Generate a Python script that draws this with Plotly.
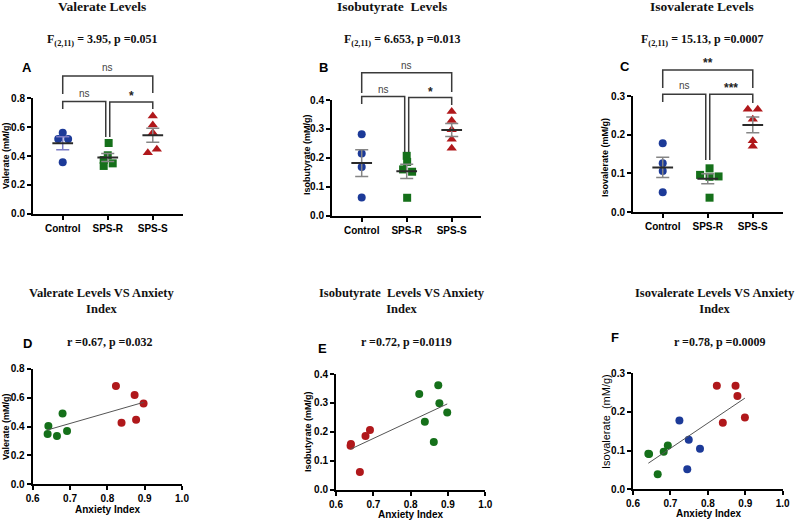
import numpy as np
import plotly.graph_objects as go

W, H = 798, 520

# ---------------- data ----------------
groups = ["Control", "SPS-R", "SPS-S"]

valerate_control = [0.562, 0.518, 0.518, 0.356]
valerate_spsr = [0.490, 0.405, 0.372, 0.349, 0.331]
valerate_spss = [0.677, 0.615, 0.562, 0.446, 0.423]

isobutyrate_control = [0.282, 0.215, 0.168, 0.063]
isobutyrate_spsr = [0.207, 0.186, 0.160, 0.152, 0.062]
isobutyrate_spss = [0.360, 0.329, 0.297, 0.264, 0.233]

isovalerate_control = [0.178, 0.126, 0.106, 0.051]
isovalerate_spsr = [0.113, 0.096, 0.092, 0.091, 0.037]
isovalerate_spss = [0.266, 0.266, 0.240, 0.184, 0.170]

# horizontal scatter offsets of the dots (category units)
jit_val = [[0, -0.10, 0.12, 0], [0.02, 0, -0.09, 0.11, -0.09], [0, 0, 0, 0.09, -0.11]]
jit_ibu = [[0, 0, 0, 0], [0, 0.01, -0.08, 0.12, 0.01], [0, 0, 0, 0, 0]]
jit_iva = [[0, 0, 0, 0], [0.04, -0.17, 0.24, 0.04, 0.04], [-0.11, 0.11, 0, 0, 0]]

# correlation panels
d_green_x = [0.642, 0.640, 0.665, 0.680, 0.692]
d_green_y = [0.403, 0.348, 0.334, 0.490, 0.369]
d_red_x = [0.823, 0.838, 0.873, 0.877, 0.897]
d_red_y = [0.680, 0.426, 0.618, 0.447, 0.560]

e_red_x = [0.640, 0.639, 0.664, 0.679, 0.691]
e_red_y = [0.158, 0.152, 0.061, 0.186, 0.206]
e_green_x = [0.823, 0.838, 0.862, 0.874, 0.877, 0.898]
e_green_y = [0.331, 0.235, 0.165, 0.361, 0.299, 0.267]

f_green_x = [0.643, 0.641, 0.666, 0.682, 0.693]
f_green_y = [0.091, 0.092, 0.039, 0.097, 0.113]
f_blue_x = [0.724, 0.749, 0.745, 0.779]
f_blue_y = [0.178, 0.128, 0.052, 0.105]
f_red_x = [0.824, 0.840, 0.874, 0.879, 0.899]
f_red_y = [0.268, 0.172, 0.268, 0.241, 0.186]

bar_titles = ["Valerate Levels", "Isobutyrate  Levels", "Isovalerate Levels"]
bar_stats = ["F<sub>(2,11)</sub> = 3.95, p =0.051",
             "F<sub>(2,11)</sub> = 6.653, p =0.013",
             "F<sub>(2,11)</sub> = 15.13, p =0.0007"]
bar_ytitles = ["Valerate (mM/g)", "Isobutyrate (mM/g)", "Isovalerate (mM/g)"]
corr_titles = ["Valerate Levels VS Anxiety<br>Index",
               "Isobutyrate  Levels VS Anxiety<br>Index",
               "Isovalerate Levels VS Anxiety<br>Index"]
corr_stats = ["r =0.67, p =0.032", "r =0.72, p =0.0119", "r =0.78, p =0.0009"]
corr_ytitles = ["Valerate (mM/g)", "Isobutyrate (mM/g)", "Isovalerate  (mM/g)"]
xtitle_corr = "Anxiety Index"
letters = ["A", "B", "C", "D", "E", "F"]

# ---------------- style ----------------
BLUE, GREEN, RED = "#1c3a98", "#15701a", "#b0181b"
SANS = "Liberation Sans, Arial, sans-serif"
SERIF = "Liberation Serif, Times New Roman, serif"
XR = [-0.66, 2.66]


def pxx(v):
    return v / W


def pxy(v):
    return 1 - v / H


fig = go.Figure()
layout = {}
annotations = []
shapes = []

# panel geometry in pixels: x0, x1, ytop, ybot, ymax, dtick
bar_geo = [
    (33, 182.5, 98.3, 213.7, 0.8, 0.2),
    (332, 481.4, 100.0, 215.7, 0.4, 0.1),
    (633, 782.5, 96.0, 212.0, 0.3, 0.1),
]
corr_geo = [
    (32.7, 182.0, 368.7, 484.3, 0.8, 0.2),
    (336, 485.3, 374.0, 489.7, 0.4, 0.1),
    (633, 782.7, 373.3, 489.3, 0.3, 0.1),
]

bar_data = [
    ([valerate_control, valerate_spsr, valerate_spss], jit_val),
    ([isobutyrate_control, isobutyrate_spsr, isobutyrate_spss], jit_ibu),
    ([isovalerate_control, isovalerate_spsr, isovalerate_spss], jit_iva),
]
symbols = ["circle", "square", "triangle-up"]
gcolors = [BLUE, GREEN, RED]


def axis_common():
    return dict(showline=True, linecolor="black", linewidth=2, ticks="outside",
                ticklen=4, tickwidth=1.5, tickcolor="black", showgrid=False,
                zeroline=False, fixedrange=True, automargin=False,
                tickfont=dict(family=SANS, size=10, color="black", weight="bold"))


for i, (geo, (vals, jit)) in enumerate(zip(bar_geo, bar_data)):
    n = i + 1
    xa = "x" if n == 1 else f"x{n}"
    ya = "y" if n == 1 else f"y{n}"
    x0, x1, yt, yb, ymax, dt = geo
    layout["xaxis" if n == 1 else f"xaxis{n}"] = dict(
        domain=[pxx(x0), pxx(x1)], range=XR, anchor=ya, tickvals=[0, 1, 2],
        ticktext=groups, **axis_common())
    layout["yaxis" if n == 1 else f"yaxis{n}"] = dict(
        domain=[pxy(yb), pxy(yt)], range=[0, ymax], anchor=xa, dtick=dt,
        tick0=0, tickformat=".1f", **axis_common())
    for g in range(3):
        v = np.array(vals[g])
        fig.add_trace(go.Scatter(
            x=[g + j for j in jit[g]], y=v, mode="markers", xaxis=xa, yaxis=ya,
            marker=dict(symbol=symbols[g], color=gcolors[g], size=8 if g < 2 else 9,
                        line=dict(width=0)),
            cliponaxis=False, showlegend=False, hoverinfo="skip"))
    for g in range(3):
        v = np.array(vals[g])
        m = v.mean()
        s = v.std(ddof=1) / np.sqrt(len(v))
        semc = "#7b7bc4" if (i == 0 and g == 0) else "#858585"
        fig.add_trace(go.Scatter(
            x=[g - 0.145, g + 0.145, None, g, g, None, g - 0.145, g + 0.145],
            y=[m + s, m + s, None, m + s, m - s, None, m - s, m - s],
            mode="lines", line=dict(color=semc, width=1.5), xaxis=xa, yaxis=ya,
            showlegend=False, hoverinfo="skip", cliponaxis=False))
        fig.add_trace(go.Scatter(
            x=[g - 0.23, g + 0.23], y=[m, m], mode="lines",
            line=dict(color="#2a2a2a", width=2), xaxis=xa, yaxis=ya,
            showlegend=False, hoverinfo="skip", cliponaxis=False))


def cat_px(geo, c):
    x0, x1 = geo[0], geo[1]
    return x0 + (c - XR[0]) / (XR[1] - XR[0]) * (x1 - x0)


# brackets: (c_left, dx_left, c_right, dx_right, h, leg_left_bottom, leg_right_bottom, label, label_y)
brackets = [
    [(0, 0, 2, 0, 76, 94, 93, "ns", 68), (0, 0, 1, -2, 101.5, 109, 137, "ns", 93),
     (1, 2, 2, 0, 102, 137, 109, "*", 96)],
    [(0, 0, 2, 0, 72.7, 93, 92, "ns", 65), (0, 0, 1, -2, 96.5, 104, 152, "ns", 89),
     (1, 2, 2, 0, 97.5, 152, 105, "*", 92)],
    [(0, 0, 2, 0, 70, 88, 88, "**", 63), (0, 0, 1, -2, 94.3, 102, 160, "ns", 86),
     (1, 2, 2, 0, 94.3, 160, 103, "***", 88)],
]
for geo, blist in zip(bar_geo, brackets):
    for (cl, dxl, cr, dxr, h, lb, rb, lab, ly) in blist:
        xl = cat_px(geo, cl) + dxl
        xr = cat_px(geo, cr) + dxr
        path = (f"M {pxx(xl)},{pxy(lb)} L {pxx(xl)},{pxy(h)} "
                f"L {pxx(xr)},{pxy(h)} L {pxx(xr)},{pxy(rb)}")
        shapes.append(dict(type="path", path=path, xref="paper", yref="paper",
                           line=dict(color="#3a3a3a", width=1.5)))
        if lab == "ns":
            font = dict(family=SANS, size=10, color="#444")
        else:
            font = dict(family=SANS, size=12, color="#222", weight="bold")
        annotations.append(dict(x=pxx((xl + xr) / 2), y=pxy(ly), text=lab,
                                xref="paper", yref="paper", showarrow=False,
                                font=font, xanchor="center", yanchor="middle"))

# correlation panels
corr_sets = [
    [(d_green_x, d_green_y, GREEN), (d_red_x, d_red_y, RED)],
    [(e_red_x, e_red_y, RED), (e_green_x, e_green_y, GREEN)],
    [(f_green_x, f_green_y, GREEN), (f_blue_x, f_blue_y, BLUE), (f_red_x, f_red_y, RED)],
]
for i, (geo, sets) in enumerate(zip(corr_geo, corr_sets)):
    n = i + 4
    xa, ya = f"x{n}", f"y{n}"
    x0, x1, yt, yb, ymax, dt = geo
    layout[f"xaxis{n}"] = dict(domain=[pxx(x0), pxx(x1)], range=[0.6, 1.0],
                               anchor=ya, dtick=0.1, tick0=0.6, tickformat=".1f",
                               **axis_common())
    layout[f"yaxis{n}"] = dict(domain=[pxy(yb), pxy(yt)], range=[0, ymax],
                               anchor=xa, dtick=dt, tick0=0, tickformat=".1f",
                               **axis_common())
    allx, ally = [], []
    for xs, ys, col in sets:
        allx += xs
        ally += ys
        fig.add_trace(go.Scatter(x=xs, y=ys, mode="markers", xaxis=xa, yaxis=ya,
                                 marker=dict(color=col, size=8), cliponaxis=False,
                                 showlegend=False, hoverinfo="skip"))
    k, b = np.polyfit(allx, ally, 1)
    lx = np.array([min(allx), max(allx)])
    fig.add_trace(go.Scatter(x=lx, y=k * lx + b, mode="lines", xaxis=xa, yaxis=ya,
                             line=dict(color="#555", width=1), showlegend=False,
                             hoverinfo="skip"))


# text annotations (pixel positions)
def ann(x, y, text, font, angle=0):
    annotations.append(dict(x=pxx(x), y=pxy(y), text=text, xref="paper", yref="paper",
                            showarrow=False, font=font, textangle=angle,
                            xanchor="center", yanchor="middle"))


bar_title_font = dict(family=SERIF, size=13.5, color="#111", weight="bold")
title_font = dict(family=SERIF, size=12.5, color="#111", weight="bold")
stat_font = dict(family=SERIF, size=12, color="#111", weight="bold")
for (tx, sx), t, s in zip([(102, 102), (392, 402), (702, 702)], bar_titles, bar_stats):
    ann(tx, 7, t, bar_title_font)
    ann(sx, 40, s, stat_font)
for (tx, sx), t, s in zip([(102, 109), (402, 406), (715, 719)], corr_titles, corr_stats):
    ann(tx, 301, t, title_font)
    ann(sx, 342, s, stat_font)

letter_font = dict(family=SANS, size=13, color="black", weight="bold")
for (lx, ly), L in zip([(27, 68), (323, 68), (625, 66), (27, 343), (322, 348), (615, 337)], letters):
    ann(lx, ly, L, letter_font)

ytf = dict(family=SANS, size=9, color="black", weight="bold")
for (x, y), t in zip([(6, 156), (307, 155), (605, 158)], bar_ytitles):
    ann(x, y, t, ytf, -90)
for (x, y), t, f in zip([(6, 427), (308, 432), (606, 422)], corr_ytitles,
                        [ytf, ytf, dict(family=SANS, size=11, color="black")]):
    ann(x, y, t, f, -90)

xtf = dict(family=SANS, size=10, color="black", weight="bold")
for (x, y) in [(107, 509), (410, 514), (708, 513)]:
    ann(x, y, xtitle_corr, xtf)

fig.update_layout(
    template="none",
    width=W, height=H, margin=dict(l=0, r=0, t=0, b=0, pad=0, autoexpand=False),
    paper_bgcolor="white", plot_bgcolor="white", showlegend=False,
    annotations=annotations, shapes=shapes, **layout)

fig.write_html("out.html", config={"displayModeBar": False},
               post_script="document.body.style.margin='0';document.body.style.overflow='hidden';")
